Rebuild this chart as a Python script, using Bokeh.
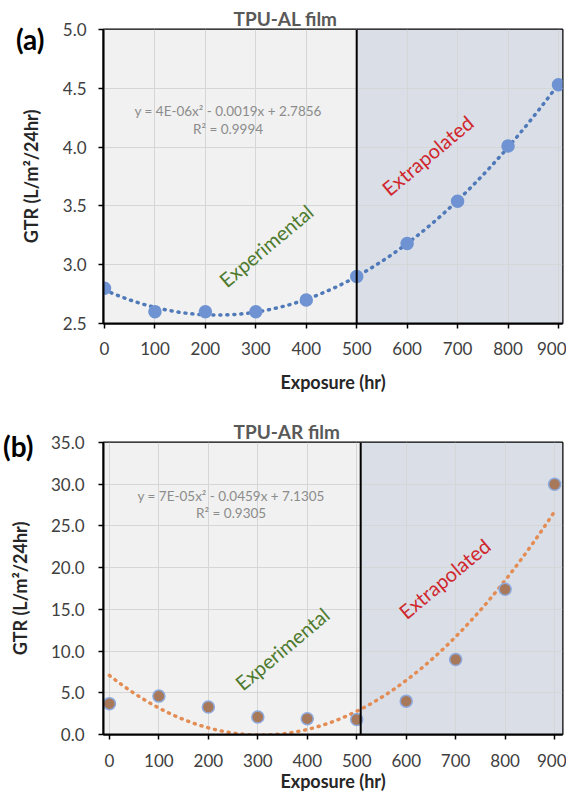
import numpy as np
from bokeh.plotting import figure
from bokeh.layouts import column
from bokeh.models import (FixedTicker, NumeralTickFormatter, BoxAnnotation, Span,
                          Label, LinearAxis)
from bokeh.embed import file_html
from bokeh.resources import INLINE

# ---- data ----
hours = [0, 100, 200, 300, 400, 500, 600, 700, 800, 900]
gtr_al = [2.80, 2.60, 2.60, 2.60, 2.70, 2.90, 3.18, 3.54, 4.01, 4.53]
gtr_ar = [3.7, 4.6, 3.3, 2.1, 1.9, 1.8, 4.0, 9.0, 17.4, 30.0]
x_ticks = [0, 100, 200, 300, 400, 500, 600, 700, 800, 900]
y_ticks_a = [2.5, 3.0, 3.5, 4.0, 4.5, 5.0]
y_ticks_b = [0, 5, 10, 15, 20, 25, 30, 35]
eq_a = ["y = 4E-06x\u00b2 - 0.0019x + 2.7856", "R\u00b2 = 0.9994"]
eq_b = ["y = 7E-05x\u00b2 - 0.0459x + 7.1305", "R\u00b2 = 0.9305"]

FONT = "Lato"


def style(p, yticks, xs_off, xl_off, ys_off, yl_off):
    p.xaxis.ticker = FixedTicker(ticks=x_ticks)
    p.yaxis.ticker = FixedTicker(ticks=yticks)
    p.yaxis.formatter = NumeralTickFormatter(format="0.0")
    for ax in (p.xaxis[0], p.yaxis[0]):
        ax.axis_line_color = "black"
        ax.axis_line_width = 2
        ax.major_tick_line_color = "black"
        ax.major_tick_line_width = 1.5
        ax.major_tick_in = 0
        ax.major_tick_out = 5
        ax.minor_tick_line_color = None
        ax.major_label_text_font = FONT
        ax.major_label_text_font_size = "17px"
        ax.major_label_text_color = "#404040"
        ax.axis_label_text_font = FONT
        ax.axis_label_text_font_size = "18px"
        ax.axis_label_text_font_style = "bold"
        ax.axis_label_text_color = "#262626"
    p.xaxis.axis_label = "Exposure (hr)"
    p.yaxis.axis_label = "GTR (L/m\u00b2/24hr)"
    p.xaxis.major_label_standoff = xs_off
    p.xaxis.axis_label_standoff = xl_off
    p.yaxis.major_label_standoff = ys_off
    p.yaxis.axis_label_standoff = yl_off
    p.xgrid.ticker = FixedTicker(ticks=x_ticks)
    p.ygrid.ticker = FixedTicker(ticks=yticks)
    for g in (p.xgrid[0], p.ygrid[0]):
        g.grid_line_color = "#d4d6d8"
        g.grid_line_width = 1
    p.outline_line_color = "black"
    p.outline_line_width = 2
    p.background_fill_color = "white"
    p.border_fill_color = "white"


def panel(vals, yr, yticks, divider, width, height, borders, offs, title,
          tag, tag_y, tag_standoff, eq, eq_x, eq_y, exp_xy, ext_xy, xr,
          pt_fill, pt_line, trend_color):
    p = figure(width=width, height=height, x_range=xr, y_range=yr,
               output_backend="svg", toolbar_location=None,
               min_border_left=borders[0], min_border_right=borders[1],
               min_border_top=borders[2], min_border_bottom=borders[3])
    style(p, yticks, *offs)
    p.title.text = title
    p.title.align = "left"
    p.title.offset = 130
    p.title.standoff = 0
    p.title.text_font = FONT
    p.title.text_font_size = "19px"
    p.title.text_font_style = "bold"
    p.title.text_color = "#595959"
    # panel tag "(a)"/"(b)" drawn as the single label of an outer, bare axis
    tag_axis = LinearAxis(ticker=FixedTicker(ticks=[tag_y]),
                          major_label_overrides={tag_y: tag},
                          axis_line_color=None, major_tick_line_color=None,
                          minor_tick_line_color=None, major_tick_in=0,
                          major_tick_out=0, major_label_standoff=tag_standoff,
                          major_label_text_font=FONT,
                          major_label_text_font_size="28px",
                          major_label_text_font_style="bold",
                          major_label_text_color="black")
    p.add_layout(tag_axis, "left")
    p.add_layout(BoxAnnotation(right=divider, fill_color="#f0f1f0", fill_alpha=1,
                               line_color=None, level="image"))
    p.add_layout(BoxAnnotation(left=divider, fill_color="#d9dee7", fill_alpha=1,
                               line_color=None, level="image"))
    p.add_layout(Span(location=divider, dimension="height", line_color="black",
                      line_width=2))
    coef = np.polyfit(hours, vals, 2)
    xs = np.linspace(0, 900, 300)
    p.line(xs, np.polyval(coef, xs), line_color=trend_color, line_width=3.5,
           line_dash="1 6", line_cap="round")
    p.scatter(hours, vals, size=12, fill_color=pt_fill, line_color=pt_line,
              line_width=1.5)
    for t, yy in zip(eq, eq_y):
        p.add_layout(Label(x=eq_x, y=yy, text=t, text_font=FONT,
                           text_font_size="13.5px", text_color="#8c8c8c",
                           text_align="center", text_baseline="middle"))
    p.add_layout(Label(x=exp_xy[0], y=exp_xy[1], text="Experimental",
                       text_font=FONT, text_font_size="20px",
                       text_color="#4e7a2e", text_align="center",
                       text_baseline="middle", angle=40, angle_units="deg"))
    p.add_layout(Label(x=ext_xy[0], y=ext_xy[1], text="Extrapolated",
                       text_font=FONT, text_font_size="20px",
                       text_color="#d0262c", text_align="center",
                       text_baseline="middle", angle=40, angle_units="deg"))
    return p


p1 = panel(gtr_al, (2.5, 5.0), y_ticks_a, 500, 566, 400, (102, 4, 29, 77),
           (13, 13, 12, 18), "TPU-AL film", "(a)", 4.923, -28, eq_a, 245,
           (4.31, 4.158), (320, 3.163), (640, 3.93), (-2, 908),
           "#6f93d2", "#6f93d2", "#4f79b8")
p2 = panel(gtr_ar, (0, 35), y_ticks_b, 508, 566, 396, (102, 1, 42, 62),
           (14, 0, 14, 17), "TPU-AR film", "(b)", 34.53, -28, eq_b, 246,
           (28.6, 26.5), (349, 10.3), (677, 18.7), (-12, 916),
           "#a8785a", "#8eaadc", "#e38d55")

layout = column(p1, p2, spacing=0)
open("out.html", "w").write(file_html(layout, INLINE))
